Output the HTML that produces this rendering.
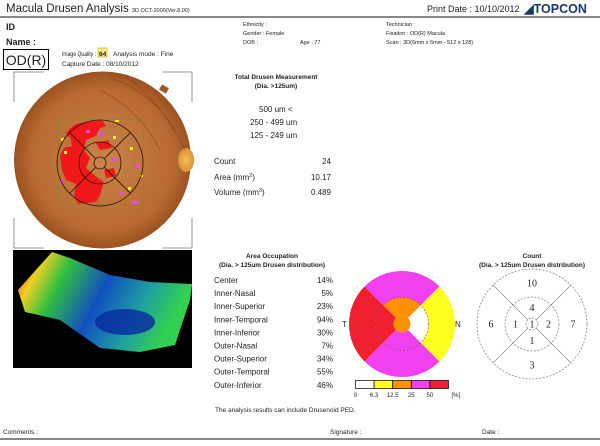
<!DOCTYPE html>
<html><head><meta charset="utf-8"><style>
body{margin:0;background:#fff;width:600px;height:441px;overflow:hidden;font-family:"Liberation Sans",sans-serif}
svg text{font-family:"Liberation Sans",sans-serif;fill:#222}
</style></head><body>
<svg id="s" width="600" height="441" viewBox="0 0 600 441">
<defs>
<radialGradient id="fg" cx="50%" cy="50%" r="50%"><stop offset="0" stop-color="#c8844a"/><stop offset="0.8" stop-color="#b86a32"/><stop offset="1" stop-color="#9a5220"/></radialGradient>
<radialGradient id="disc" cx="50%" cy="50%" r="50%"><stop offset="0" stop-color="#f8c050"/><stop offset="1" stop-color="#d89038"/></radialGradient>
<linearGradient id="mapg" x1="0" y1="0" x2="1" y2="0.3"><stop offset="0" stop-color="#e02010"/><stop offset="0.15" stop-color="#f0d020"/><stop offset="0.3" stop-color="#30c040"/><stop offset="0.55" stop-color="#1050c0"/><stop offset="0.8" stop-color="#20a0a0"/><stop offset="1" stop-color="#30d050"/></linearGradient>
</defs>
<text x="6" y="12" font-size="11.5">Macula Drusen Analysis <tspan font-size="5.5">3D OCT-2000(Ver.8.00)</tspan></text>
<text x="427" y="12" font-size="9">Print Date : 10/10/2012</text>
<text x="524" y="13" font-size="12.5" font-weight="bold" style="fill:#183870">◢TOPCON</text>
<rect x="0" y="16" width="600" height="2" fill="#888"/>
<text x="6" y="30" font-size="9" font-weight="bold">ID</text>
<text x="6" y="45" font-size="9" font-weight="bold">Name :</text>
<g font-size="5.5">
<text x="243" y="26">Ethnicity :</text><text x="243" y="35">Gender : Female</text><text x="243" y="44">DOB :</text><text x="300" y="44">Age : 77</text>
<text x="386" y="26">Technician :</text><text x="386" y="35">Fixation : OD(R) Macula</text><text x="386" y="44">Scan : 3D(6mm x 6mm - 512 x 128)</text>
</g>
<rect x="3.5" y="49.5" width="45" height="20" fill="none" stroke="#000"/>
<text x="26" y="65" font-size="14" text-anchor="middle">OD(R)</text>
<text x="62" y="56" font-size="6" textLength="34" lengthAdjust="spacingAndGlyphs">Image Quality :</text>
<rect x="98" y="48" width="9" height="9" fill="#ffee88" stroke="#c8a000" stroke-width="0.6"/>
<text x="99" y="56" font-size="6.5" font-weight="bold">64</text>
<text x="113" y="56" font-size="6.5">Analysis mode : Fine</text>
<text x="62" y="66" font-size="6.5">Capture Date : 08/10/2012</text>
<g>
<path d="M14 72h30M14 72v30M192 72h-30M192 72v30M14 248h30M14 248v-30M192 248h-30M192 248v-30" stroke="#777" stroke-width="0.8" fill="none"/>
<circle cx="102.5" cy="160" r="88.5" fill="url(#fg)"/>
<rect x="160" y="86" width="8" height="6" fill="#a05a28" transform="rotate(30 164 89)"/>
<ellipse cx="186" cy="160" rx="8" ry="12" fill="url(#disc)"/>
<path d="M110 78 Q150 90 175 130 M100 90 Q140 110 160 150 M125 76 Q160 100 185 150" stroke="#8a3010" stroke-width="0.8" fill="none" opacity="0.5"/>
<rect x="58.5" y="119.5" width="85" height="85" fill="none" stroke="#7a8a20" stroke-width="0.7" stroke-dasharray="2 1"/>
<path d="M76 124 L92 121 L100 128 L96 136 L86 140 L84 150 L90 158 L86 168 L98 178 L104 182 L100 195 L96 202 L78 204 L74 196 L76 184 L66 180 L62 170 L60 156 L64 148 L72 146 L70 136 L68 130 Z" fill="#f01818"/>
<path d="M96 143 L108 140 L112 148 L100 150 Z M90 122 l12 -2 l4 6 l-10 4z M104 170 l10 -2 l2 8 l-10 2z M66 132 l8 -2 l2 5 l-8 2z" fill="#f01818"/>
<g fill="#e050e0"><rect x="97" y="132" width="6" height="3"/><rect x="112" y="158" width="5" height="3"/><rect x="136" y="164" width="4" height="4"/><rect x="119" y="192" width="5" height="3"/><rect x="132" y="201" width="8" height="3"/><rect x="60" y="179" width="3" height="3"/><rect x="86" y="130" width="4" height="3"/></g>
<g fill="#f0f020"><rect x="61" y="138" width="3" height="3"/><rect x="64" y="151" width="3" height="3"/><rect x="113" y="136" width="3" height="3"/><rect x="115" y="120" width="4" height="2"/><rect x="130" y="147" width="3" height="3"/><rect x="128" y="187" width="3" height="3"/><rect x="140" y="175" width="3" height="2"/></g>
<g fill="none" stroke="#301008" stroke-width="0.8">
<circle cx="100" cy="163" r="43"/><circle cx="100" cy="163" r="21"/><circle cx="100" cy="163" r="6"/>
<path d="M69.6 132.6L95.8 158.8M104.2 167.2L130.4 193.4M130.4 132.6L104.2 158.8M95.8 167.2L69.6 193.4"/>
</g>
</g>
<g>
<rect x="13" y="250" width="179" height="118" fill="#000"/>
<path d="M52 252 L70 258 L110 275 L150 282 L192 284 L190 300 L175 345 L140 352 L100 348 L60 320 L25 312 L18 290 Z" fill="url(#mapg)"/>
<ellipse cx="125" cy="322" rx="30" ry="13" fill="#0828a0" opacity="0.8"/>
</g>
<text x="276" y="79" font-size="6.5" font-weight="bold" text-anchor="middle">Total Drusen Measurement</text>
<text x="276" y="88" font-size="6.5" font-weight="bold" text-anchor="middle">(Dia. &gt;125um)</text>
<g font-size="8" fill="#444">
<text x="259" y="112">500 um &lt;</text><text x="250" y="125">250 - 499 um</text><text x="250" y="138">125 - 249 um</text>
</g>
<g font-size="8">
<text x="214" y="164">Count</text><text x="331" y="164" text-anchor="end">24</text>
<text x="214" y="180">Area (mm<tspan dy="-3" font-size="5.5">2</tspan><tspan dy="3">)</tspan></text><text x="331" y="180" text-anchor="end">10.17</text>
<text x="214" y="195">Volume (mm<tspan dy="-3" font-size="5.5">3</tspan><tspan dy="3">)</tspan></text><text x="331" y="195" text-anchor="end">0.489</text>
</g>
<text x="272" y="258" font-size="6.5" font-weight="bold" text-anchor="middle">Area Occupation</text>
<text x="272" y="267" font-size="6.5" font-weight="bold" text-anchor="middle">(Dia. &gt; 125um Drusen distribution)</text>
<g id="tbl" font-size="8"></g>
<g id="sect"></g>
<text x="342" y="327" font-size="8">T</text>
<text x="455" y="327" font-size="8">N</text>
<g id="leg"></g>
<text x="532" y="258" font-size="6.5" font-weight="bold" text-anchor="middle">Count</text>
<text x="532" y="267" font-size="6.5" font-weight="bold" text-anchor="middle">(Dia. &gt; 125um Drusen distribution)</text>
<g id="cnt"></g>
<text x="215" y="412" font-size="6.5">The analysis results can include Drusenoid PED.</text>
<text x="3" y="434" font-size="6.5">Comments :</text>
<text x="330" y="434" font-size="6.5">Signature :</text>
<text x="482" y="434" font-size="6.5">Date :</text>
<rect x="0" y="438" width="600" height="2" fill="#888"/>
</svg>
<script>
const regions=["Center","Inner-Nasal","Inner-Superior","Inner-Temporal","Inner-Inferior","Outer-Nasal","Outer-Superior","Outer-Temporal","Outer-Inferior"];
const occupancy=[14,5,23,94,30,7,34,55,46];
const counts=[1,2,4,1,1,7,10,6,3];
const thresholds=[0,6.3,12.5,25,50];
const scaleLabels=["0","6.3","12.5","25","50","[%]"];
const scaleColors=["#ffffff","#ffff20","#ff9000","#f040f0","#f02030"];
const NS="http://www.w3.org/2000/svg";
function mk(p,t,a){const e=document.createElementNS(NS,t);for(const k in a)e.setAttribute(k,a[k]);p.appendChild(e);return e;}
function colorFor(v){let i=0;for(let k=0;k<thresholds.length;k++)if(v>=thresholds[k])i=k;return scaleColors[i];}
const dirAngle={Nasal:0,Inferior:90,Temporal:180,Superior:270};
function wedge(cx,cy,r0,r1,a){const a0=(a-45)*Math.PI/180,a1=(a+45)*Math.PI/180;
 const p=(r,t)=>(cx+r*Math.cos(t)).toFixed(2)+" "+(cy+r*Math.sin(t)).toFixed(2);
 return "M"+p(r1,a0)+"A"+r1+" "+r1+" 0 0 1 "+p(r1,a1)+"L"+p(r0,a1)+"A"+r0+" "+r0+" 0 0 0 "+p(r0,a0)+"Z";}
const tbl=document.getElementById('tbl');
regions.forEach((r,i)=>{const y=283+i*13.1;
 const a=mk(tbl,'text',{x:214,y:y});a.textContent=r;
 
 
 const b=mk(tbl,'text',{x:333,y:y,'text-anchor':'end'});b.textContent=occupancy[i]+'%';
 
 });
const S=document.getElementById('sect');const cx=402,cy=324,R=[8.5,26.5,53];
regions.forEach((r,i)=>{
 if(r==="Center")return;
 const[ring,dir]=r.split('-');const inner=ring==="Inner";
 const d=wedge(cx,cy,inner?R[0]:R[1],inner?R[1]:R[2],dirAngle[dir]);
 const el=mk(S,'path',{d:d,fill:colorFor(occupancy[i]),stroke:'none'});
 
 });
const c0=mk(S,'circle',{cx:cx,cy:cy,r:R[0],fill:colorFor(occupancy[0])});


mk(S,'circle',{cx:cx,cy:cy,r:R[1],fill:'none',stroke:'#904040','stroke-width':0.6,'stroke-dasharray':'2 1.5'});
const L=document.getElementById('leg');
scaleColors.forEach((c,i)=>{const e=mk(L,'rect',{x:355.5+i*18.6,y:380.5,width:18.6,height:8,fill:c,stroke:'#000','stroke-width':0.7});
 
 });
scaleLabels.forEach((t,i)=>{const e=mk(L,'text',{x:355.5+i*18.6+(i==5?3:0),y:397,'font-size':6,'text-anchor':i==5?'start':'middle'});e.textContent=t;
 
 });
const C=document.getElementById('cnt');const kx=532,ky=324,KR=[6,27,55];
const dsh={fill:'none',stroke:'#777','stroke-width':0.7,'stroke-dasharray':'2 1.5'};
KR.forEach(r=>mk(C,'circle',Object.assign({cx:kx,cy:ky,r:r},dsh)));
[45,135,225,315].forEach(a=>{const t=a*Math.PI/180;mk(C,'line',{x1:kx+KR[0]*Math.cos(t),y1:ky+KR[0]*Math.sin(t),x2:kx+KR[2]*Math.cos(t),y2:ky+KR[2]*Math.sin(t),stroke:'#888','stroke-width':0.7});});
regions.forEach((r,i)=>{let x=kx,y=ky;
 if(r!=="Center"){const[ring,dir]=r.split('-');const rr=ring==="Inner"?(KR[0]+KR[1])/2:(KR[1]+KR[2])/2;const t=dirAngle[dir]*Math.PI/180;x=kx+rr*Math.cos(t);y=ky+rr*Math.sin(t);}
 const e=mk(C,'text',{x:x,y:y+3.5,'font-size':10,'text-anchor':'middle'});
 e.style.fontFamily='"Liberation Serif",serif';e.textContent=counts[i];
 
 });
</script>
</body></html>
